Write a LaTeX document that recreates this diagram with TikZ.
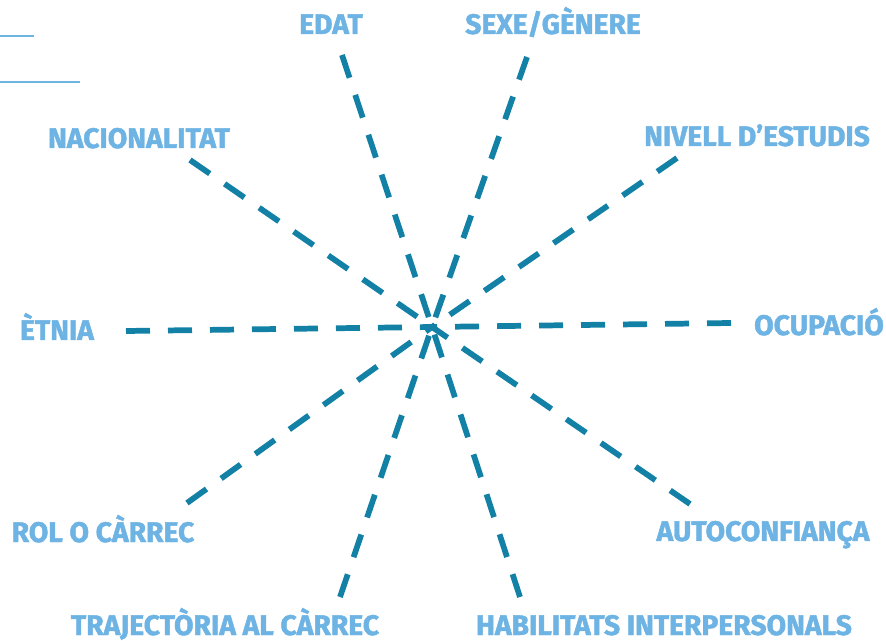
\documentclass[tikz,border=0pt]{standalone}
\usepackage{fontspec}
\setmainfont{Fira Sans}[BoldFeatures={FakeBold=1.6}]
\usetikzlibrary{positioning}
\definecolor{spokeblue}{HTML}{1380A6}
\definecolor{labelblue}{HTML}{6DB3E3}
\begin{document}
\begin{tikzpicture}[x=0.75pt, y=-0.75pt,
                    lbl/.style={text=labelblue, font=\bfseries\fontsize{21.2}{22}\selectfont, inner sep=0pt, anchor=base},
                    spoke/.style={draw=spokeblue, line width=4.3pt, dash pattern=on 18pt off 13.5pt},
                    rule/.style={draw=labelblue, line width=1.8pt}]
        \useasboundingbox (0,0) rectangle (886,641);
        \coordinate (hub) at (432,327);
        \node[lbl] (edat)  at (331,34)  {EDAT};
        \node[lbl] (sexe)  at (553,34)  {SEXE/GÈNERE};
        \node[lbl] (nac)   at (139,148) {NACIONALITAT};
        \node[lbl] (niv)   at (757,146) {NIVELL D’ESTUDIS};
        \node[lbl] (etn)   at (57,340)  {ÈTNIA};
        \node[lbl] (ocu)   at (819,335) {OCUPACIÓ};
        \node[lbl] (rol)   at (103,542) {ROL O CÀRREC};
        \node[lbl] (auto)  at (763,541) {AUTOCONFIANÇA};
        \node[lbl] (traj)  at (225,635) {TRAJECTÒRIA AL CÀRREC};
        \node[lbl] (hab)   at (664,635) {HABILITATS INTERPERSONALS};
        \coordinate (edat-e) at (342,55);
        \coordinate (sexe-e) at (527,57);
        \coordinate (nac-e)  at (190,160);
        \coordinate (niv-e)  at (677,158);
        \coordinate (etn-e)  at (126,331);
        \coordinate (ocu-e)  at (731,323);
        \coordinate (rol-e)  at (187,503);
        \coordinate (auto-e) at (690,504);
        \coordinate (traj-e) at (340,597);
        \coordinate (hab-e)  at (520,597);
        \foreach \e in {edat-e,sexe-e,nac-e,niv-e,etn-e,ocu-e,rol-e,auto-e,traj-e,hab-e}
            \draw[spoke] (\e) -- (hub);
        \coordinate (r1a) at (0,36);
        \coordinate (r1b) at (34,36);
        \coordinate (r2a) at (0,82);
        \coordinate (r2b) at (80,82);
        \draw[rule] (r1a) -- (r1b);
        \draw[rule] (r2a) -- (r2b);
    \end{tikzpicture}
\end{document}
